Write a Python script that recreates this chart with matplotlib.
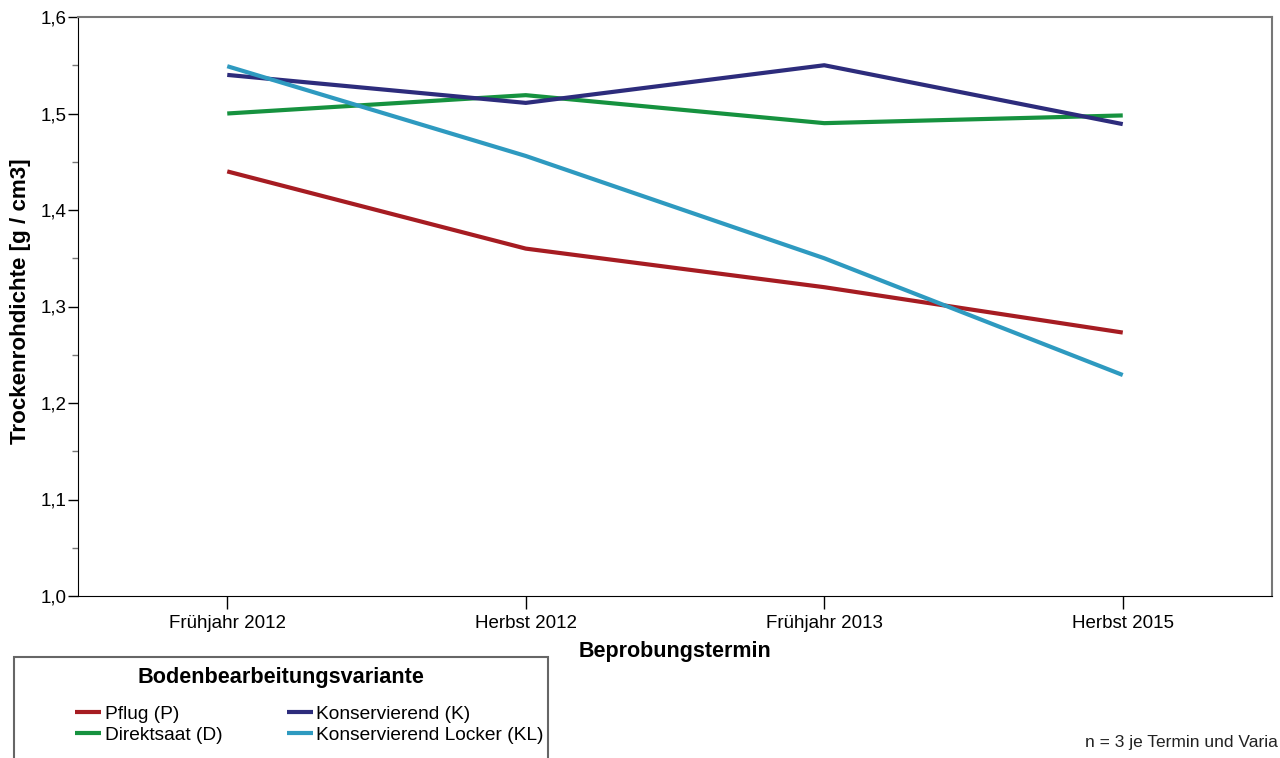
import matplotlib.pyplot as plt
from matplotlib.patches import Rectangle
from matplotlib.ticker import FuncFormatter, MultipleLocator

plt.rcParams['font.family'] = ['Liberation Sans', 'DejaVu Sans']

# Beprobungstermine
termine = ['Frühjahr 2012', 'Herbst 2012', 'Frühjahr 2013', 'Herbst 2015']

# Trockenrohdichte [g/cm3] je Variante
pflug = [1.44, 1.36, 1.32, 1.273]
konservierend = [1.54, 1.511, 1.55, 1.489]
direktsaat = [1.50, 1.519, 1.49, 1.498]
kons_locker = [1.549, 1.456, 1.350, 1.229]

W, H = 1280, 758
fig = plt.figure(figsize=(W / 100, H / 100), dpi=100)
ax = fig.add_axes([78 / W, 1 - 596 / H, (1272 - 78) / W, (596 - 17) / H])

x = list(range(len(termine)))
lw = 3
ax.plot(x, pflug, color='#A61C22', lw=lw, label='Pflug (P)', solid_capstyle='butt')
ax.plot(x, direktsaat, color='#16923F', lw=lw, label='Direktsaat (D)', solid_capstyle='butt')
ax.plot(x, konservierend, color='#2D2C7C', lw=lw, label='Konservierend (K)', solid_capstyle='butt')
ax.plot(x, kons_locker, color='#2E9AC0', lw=lw, label='Konservierend Locker (KL)', solid_capstyle='butt')

ax.set_xlim(-0.5, 3.5)
ax.set_ylim(1.0, 1.6)
ax.set_xticks(x)
ax.set_xticklabels(termine, fontsize=13.5)
ax.yaxis.set_major_locator(MultipleLocator(0.1))
ax.yaxis.set_minor_locator(MultipleLocator(0.05))
ax.yaxis.set_major_formatter(FuncFormatter(lambda v, p: f'{v:.1f}'.replace('.', ',')))
ax.tick_params(axis='y', which='major', length=7, width=1, labelsize=13.5, pad=1)
ax.tick_params(axis='y', which='minor', length=4, width=1, color='#777777')
ax.tick_params(axis='x', length=9, width=1, pad=5)

for s in ['left', 'bottom']:
    ax.spines[s].set_color('black')
for s in ['top', 'right']:
    ax.spines[s].set_color('#777777')
    ax.spines[s].set_linewidth(1.5)

ax.set_xlabel('Beprobungstermin', fontsize=15.5, fontweight='bold', labelpad=6)
ax.set_ylabel('Trockenrohdichte [g / cm3]', fontsize=16.1, fontweight='bold')
ax.yaxis.set_label_coords(-(78 - 31) / (1272 - 78), (596 - 301) / (596 - 17))

# Legendenrahmen unten links
fig.patches.append(Rectangle((14 / W, -0.05), (548 - 14) / W, 0.05 + (H - 657) / H,
                             transform=fig.transFigure, fill=False, edgecolor='#666666', lw=1.5))
fig.text(281 / W, 1 - 677 / H, 'Bodenbearbeitungsvariante', fontsize=15.6, fontweight='bold',
         ha='center', va='center')
handles, labels = ax.get_legend_handles_labels()
fig.legend(handles, labels, ncol=2, loc='upper left', bbox_to_anchor=(58 / W, 1 - 688 / H),
           frameon=False, fontsize=13.75, handlelength=1.36, handletextpad=0.2,
           columnspacing=3.35, labelspacing=0.2)

fig.text(1278 / W, 1 - 743 / H, 'n = 3 je Termin und Varia', fontsize=12.5,
         ha='right', va='center', color='#222222')

fig.savefig('out.png', dpi=100)
